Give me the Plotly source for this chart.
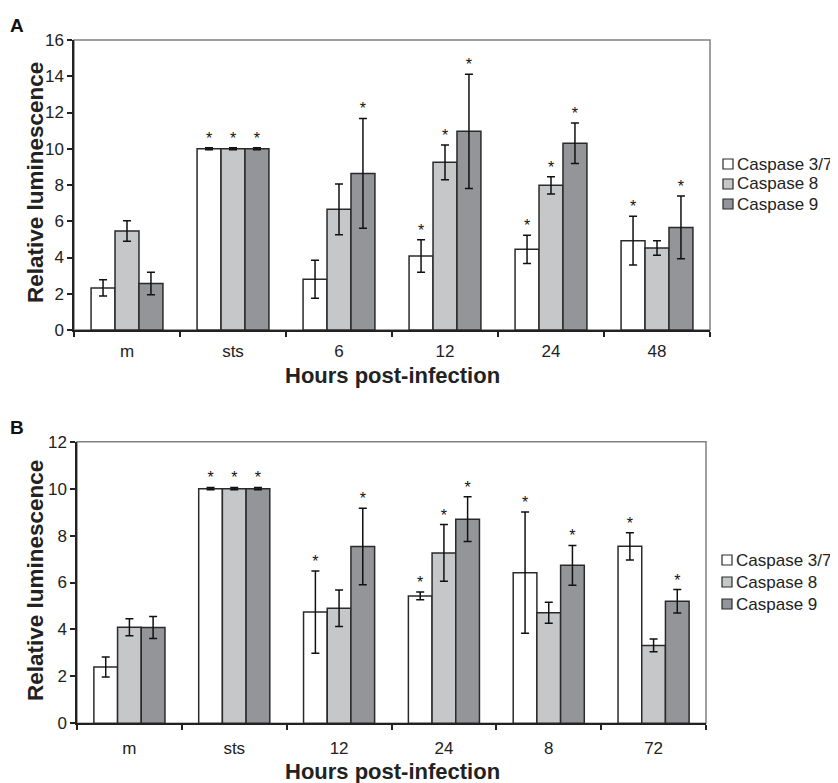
import plotly.graph_objects as go

# ---------------- data ----------------
series_names = ["Caspase 3/7", "Caspase 8", "Caspase 9"]

cats_a = ["m", "sts", "6", "12", "24", "48"]
a_c37 = [2.32, 10.0, 2.80, 4.08, 4.45, 4.93]
a_c8 = [5.46, 10.0, 6.66, 9.25, 7.98, 4.52]
a_c9 = [2.56, 10.0, 8.64, 10.96, 10.30, 5.66]
a_c37_err = [0.45, 0.05, 1.05, 0.90, 0.78, 1.35]
a_c8_err = [0.57, 0.05, 1.40, 0.96, 0.47, 0.40]
a_c9_err = [0.62, 0.05, 3.03, 3.15, 1.12, 1.73]
a_c37_sig = [0, 1, 0, 1, 1, 1]
a_c8_sig = [0, 1, 0, 1, 1, 0]
a_c9_sig = [0, 1, 1, 1, 1, 1]

cats_b = ["m", "sts", "12", "24", "8", "72"]
b_c37 = [2.40, 10.0, 4.74, 5.43, 6.42, 7.54]
b_c8 = [4.09, 10.0, 4.90, 7.26, 4.71, 3.32]
b_c9 = [4.08, 10.0, 7.53, 8.70, 6.73, 5.20]
b_c37_err = [0.43, 0.05, 1.75, 0.17, 2.58, 0.58]
b_c8_err = [0.36, 0.05, 0.78, 1.21, 0.45, 0.27]
b_c9_err = [0.47, 0.05, 1.63, 0.95, 0.85, 0.50]
b_c37_sig = [0, 1, 1, 1, 1, 1]
b_c8_sig = [0, 1, 0, 1, 0, 0]
b_c9_sig = [0, 1, 1, 1, 1, 1]

yticks_a = [0, 2, 4, 6, 8, 10, 12, 14, 16]
yticks_b = [0, 2, 4, 6, 8, 10, 12]

# ---------------- style ----------------
FONT = "Arial, Liberation Sans, Helvetica, sans-serif"
fills = ["#ffffff", "#c6c7c9", "#939598"]
outline = "#2a2a2a"
BARGAP = 0.322
W, H = 838, 783
OFF = 8  # the page body adds an 8 px margin; layout positions compensate


def px(x):
    return (x - OFF) / W


def py(y):
    return 1 - (y - OFF) / H


fig = go.Figure()


def add_panel(cats, vals, errs, sigs, xa, ya):
    n = len(vals)
    bw = (1 - BARGAP) / n
    xs = list(range(len(cats)))
    for j in range(n):
        fig.add_trace(go.Bar(
            x=xs, y=vals[j], name=series_names[j],
            marker=dict(color=fills[j], line=dict(color=outline, width=1.5)),
            error_y=dict(type="data", array=errs[j], color="#111111",
                         thickness=1.5, width=4),
            xaxis=xa, yaxis=ya, showlegend=False,
        ))
    for j in range(n):
        off = (j - (n - 1) / 2) * bw
        fig.add_trace(go.Scatter(
            x=[x + off for x in xs],
            y=[v + e for v, e in zip(vals[j], errs[j])],
            text=["*" if s else "" for s in sigs[j]],
            mode="text", textposition="top center",
            textfont=dict(family=FONT, size=16, color="#111111"),
            xaxis=xa, yaxis=ya, showlegend=False, hoverinfo="skip",
            cliponaxis=False,
        ))


add_panel(cats_a, [a_c37, a_c8, a_c9], [a_c37_err, a_c8_err, a_c9_err],
          [a_c37_sig, a_c8_sig, a_c9_sig], "x", "y")
add_panel(cats_b, [b_c37, b_c8, b_c9], [b_c37_err, b_c8_err, b_c9_err],
          [b_c37_sig, b_c8_sig, b_c9_sig], "x2", "y2")


def xaxis_cfg(cats, dom, anchor, standoff):
    return dict(
        domain=dom, anchor=anchor, range=[-0.5, len(cats) - 0.5],
        tickmode="array", tickvals=list(range(len(cats))), ticktext=cats,
        ticks="", ticklabelstandoff=standoff, automargin=False,
        minor=dict(tickmode="array",
                   tickvals=[k - 0.5 for k in range(len(cats) + 1)],
                   ticks="outside", ticklen=5, tickwidth=1.5, tickcolor="#222222"),
        tickfont=dict(family=FONT, size=17, color="#222222"),
        showline=True, linecolor="#222222", linewidth=1.5,
        showgrid=False, zeroline=False, fixedrange=True,
    )


def yaxis_cfg(ticks, dom, anchor):
    return dict(
        domain=dom, anchor=anchor, range=[ticks[0], ticks[-1]],
        tickmode="array", tickvals=ticks, automargin=False,
        ticks="outside", ticklen=5, tickwidth=1.5, tickcolor="#222222",
        tickfont=dict(family=FONT, size=17, color="#222222"),
        showline=True, linecolor="#222222", linewidth=1.5,
        showgrid=False, zeroline=False, fixedrange=True,
    )


fig.update_layout(
    width=W, height=H, autosize=False,
    margin=dict(l=0, r=0, t=0, b=0, pad=0, autoexpand=False),
    paper_bgcolor="white", plot_bgcolor="white",
    barmode="group", bargap=BARGAP, bargroupgap=0,
    font=dict(family=FONT, color="#222222"),
    xaxis=xaxis_cfg(cats_a, [px(74), px(710)], "y", 5),
    yaxis=yaxis_cfg(yticks_a, [py(330), py(40)], "x"),
    xaxis2=xaxis_cfg(cats_b, [px(77), px(706)], "y2", 9),
    yaxis2=yaxis_cfg(yticks_b, [py(723.3), py(441.7)], "x2"),
    showlegend=False,
)

# plot frames (gray box)
for xr, yr in [("x domain", "y domain"), ("x2 domain", "y2 domain")]:
    fig.add_shape(type="rect", xref=xr, yref=yr, x0=0, x1=1, y0=0, y1=1,
                  line=dict(color="#808080", width=1.5), layer="below")

# legends (one per panel)
legend_specs = [
    dict(box_x=723, text_x=735, rows=[164, 184, 204]),
    dict(box_x=722, text_x=734, rows=[560, 582, 604]),
]
for spec in legend_specs:
    for j, name in enumerate(series_names):
        yc = spec["rows"][j]
        fig.add_shape(type="rect", xref="paper", yref="paper",
                      x0=px(spec["box_x"]), x1=px(spec["box_x"] + 10),
                      y0=py(yc + 5), y1=py(yc - 5),
                      fillcolor=fills[j], line=dict(color=outline, width=1.2))
        fig.add_annotation(text=name, x=px(spec["text_x"]), y=py(yc),
                           xref="paper", yref="paper", showarrow=False,
                           xanchor="left", yanchor="middle",
                           font=dict(family=FONT, size=17, color="#222222"))

# axis titles and panel letters
ann = dict(showarrow=False, xref="paper", yref="paper")
fig.add_annotation(text="<b>Hours post-infection</b>", x=px(392), y=py(375),
                   xanchor="center", yanchor="middle",
                   font=dict(family=FONT, size=22, color="#222222"), **ann)
fig.add_annotation(text="<b>Hours post-infection</b>", x=px(392), y=py(771),
                   xanchor="center", yanchor="middle",
                   font=dict(family=FONT, size=22, color="#222222"), **ann)
fig.add_annotation(text="<b>Relative luminescence</b>", x=px(35), y=py(183),
                   xanchor="center", yanchor="middle", textangle=-90,
                   font=dict(family=FONT, size=22.5, color="#222222"), **ann)
fig.add_annotation(text="<b>Relative luminescence</b>", x=px(35), y=py(581),
                   xanchor="center", yanchor="middle", textangle=-90,
                   font=dict(family=FONT, size=22.5, color="#222222"), **ann)
fig.add_annotation(text="<b>A</b>", x=px(17), y=py(25),
                   xanchor="center", yanchor="middle",
                   font=dict(family=FONT, size=19, color="#111111"), **ann)
fig.add_annotation(text="<b>B</b>", x=px(17), y=py(427),
                   xanchor="center", yanchor="middle",
                   font=dict(family=FONT, size=19, color="#111111"), **ann)

fig.write_html("out.html")
